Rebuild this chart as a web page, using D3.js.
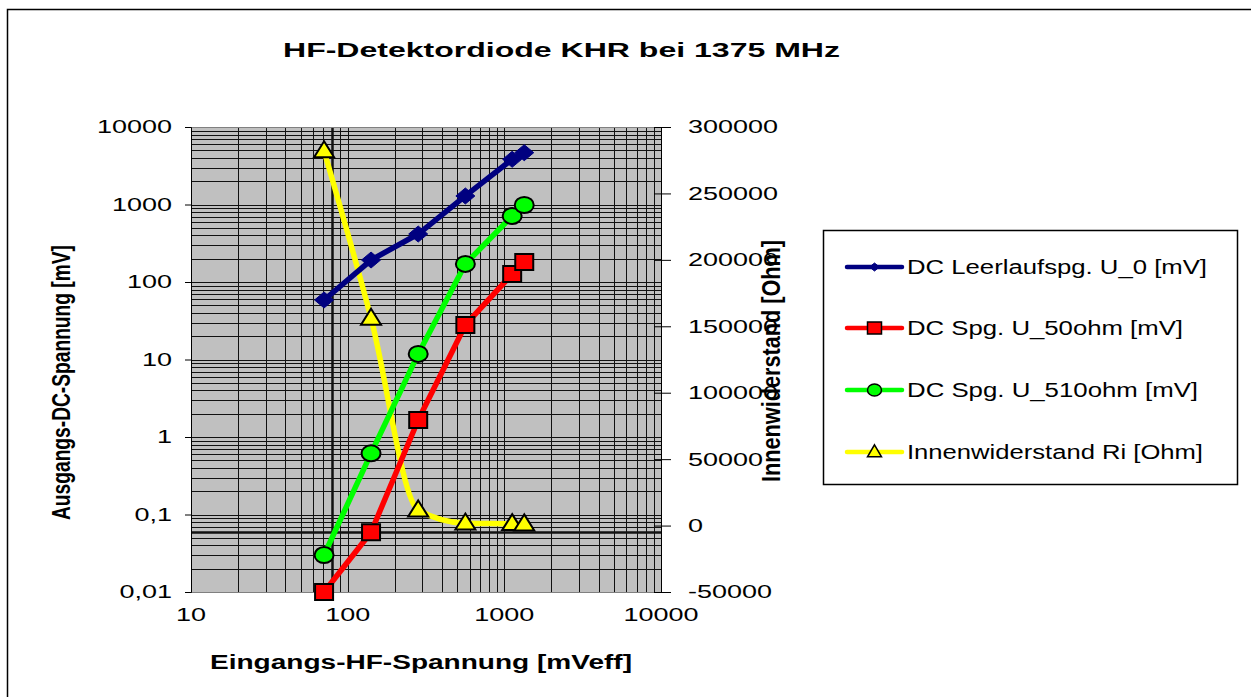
<!DOCTYPE html>
<html><head><meta charset="utf-8">
<script src="https://cdn.jsdelivr.net/npm/d3@7"></script>
<style>
html,body{margin:0;padding:0;background:#fff;}
text{font-family:"Liberation Sans",Arial,sans-serif;}
</style></head>
<body>
<svg id="chart" width="1251" height="697"></svg>
<script>
// ---- data ----
const chartTitle = "HF-Detektordiode KHR bei 1375 MHz";
const xTitle = "Eingangs-HF-Spannung  [mVeff]";
const yTitle = "Ausgangs-DC-Spannung [mV]";
const y2Title = "Innenwiderstand [Ohm]";
const xTicks = [10, 100, 1000, 10000];
const yTicks = [0.01, 0.1, 1, 10, 100, 1000, 10000];
const yTickLabels = ["0,01", "0,1", "1", "10", "100", "1000", "10000"];
const y2Ticks = [-50000, 0, 50000, 100000, 150000, 200000, 250000, 300000];
const inputMv = [70.7, 141, 282, 564, 1122, 1340];
const u0 = [58.6, 192, 416, 1288, 3830, 4660];
const u50 = [0.01, 0.059, 1.66, 27.9, 127, 181];
const u510 = [0.030, 0.616, 11.8, 171, 711, 985];
const ri = [282000, 156000, 11700, 1800, 1400, 1200];
const seriesNames = ["DC Leerlaufspg. U_0 [mV]", "DC Spg. U_50ohm [mV]", "DC Spg. U_510ohm [mV]", "Innenwiderstand Ri [Ohm]"];

// ---- layout ----
const svg = d3.select("#chart");
const L = 191, R = 661, T = 127, B = 592;
const x = d3.scaleLog().domain([10, 10000]).range([L, R]);
const y = d3.scaleLog().domain([0.01, 10000]).range([B, T]);
const y2 = d3.scaleLinear().domain([-50000, 300000]).range([B, T]);

// outer frame
svg.append("path").attr("d", "M7.5,700 V9.5 H1252").attr("fill", "none").attr("stroke", "#000").attr("stroke-width", 1.5);

// plot background
svg.append("rect").attr("x", L).attr("y", T).attr("width", R - L).attr("height", B - T).attr("fill", "#c0c0c0");

// gridlines (log minor)
const gx = [];
[10, 100, 1000].forEach(d => { for (let k = 1; k <= 9; k++) gx.push(d * k); });
gx.push(10000);
const gy = [];
[0.01, 0.1, 1, 10, 100, 1000].forEach(d => { for (let k = 1; k <= 9; k++) gy.push(+(d * k).toPrecision(3)); });
gy.push(10000);
const grid = svg.append("g");
grid.selectAll("line.v").data(gx).join("line").attr("class", "v")
  .attr("x1", d => Math.round(x(d)) + 0.5).attr("x2", d => Math.round(x(d)) + 0.5)
  .attr("y1", T).attr("y2", B)
  .attr("stroke", "#111").attr("stroke-width", d => d === 80 ? 2.5 : 1);
grid.selectAll("line.h").data(gy).join("line").attr("class", "h")
  .attr("y1", d => Math.round(y(d)) + 0.5).attr("y2", d => Math.round(y(d)) + 0.5)
  .attr("x1", L).attr("x2", R)
  .attr("stroke", "#111").attr("stroke-width", d => d === 0.06 ? 2.5 : 1);

// plot border
svg.append("rect").attr("x", L + 0.5).attr("y", T + 0.5).attr("width", R - L).attr("height", B - T)
  .attr("fill", "none").attr("stroke", "#808080").attr("stroke-width", 1);

// left axis
const yAxis = d3.axisLeft(y).tickValues(yTicks).tickSize(6).tickPadding(0).tickFormat((d, i) => "");
const ga = svg.append("g").attr("transform", `translate(${L},0)`).call(yAxis);
ga.select(".domain").attr("stroke", "#000");
ga.selectAll(".tick line").attr("stroke", "#000");
// left labels
svg.append("g").selectAll("text").data(yTicks).join("text")
  .attr("transform", d => `translate(172,${y(d)}) scale(1.5,1)`)
  .attr("dy", "0.36em").attr("text-anchor", "end").attr("font-size", 18).attr("fill", "#000")
  .text((d, i) => yTickLabels[i]);

// right axis
const y2Axis = d3.axisRight(y2).tickValues(y2Ticks).tickSizeInner(0).tickSizeOuter(0).tickFormat(() => "");
const gb = svg.append("g").attr("transform", `translate(${R},0)`).call(y2Axis);
gb.select(".domain").attr("stroke", "#000");
gb.selectAll(".tick line").attr("x1", -7).attr("x2", 10).attr("stroke", "#000");
svg.append("g").selectAll("text").data(y2Ticks).join("text")
  .attr("transform", d => `translate(688,${y2(d)}) scale(1.5,1)`)
  .attr("dy", "0.36em").attr("text-anchor", "start").attr("font-size", 18).attr("fill", "#000")
  .text(d => String(d));

// x labels
svg.append("g").selectAll("text").data(xTicks).join("text")
  .attr("transform", d => `translate(${x(d)},621) scale(1.5,1)`)
  .attr("text-anchor", "middle").attr("font-size", 18).attr("fill", "#000")
  .text(d => String(d));

// titles
svg.append("text").attr("x", 283).attr("y", 57).attr("font-size", 21).attr("font-weight", "bold")
  .attr("textLength", 557).attr("lengthAdjust", "spacingAndGlyphs").text(chartTitle);
svg.append("text").attr("x", 210).attr("y", 669).attr("font-size", 20).attr("font-weight", "bold")
  .attr("textLength", 422).attr("lengthAdjust", "spacingAndGlyphs").text(xTitle);
svg.append("text").attr("transform", "translate(70,520) scale(1.35,1) rotate(-90)")
  .attr("font-size", 19).attr("font-weight", "bold")
  .attr("textLength", 275).attr("lengthAdjust", "spacingAndGlyphs").text(yTitle);
svg.append("text").attr("transform", "translate(780,482) scale(1.35,1) rotate(-90)")
  .attr("font-size", 19).attr("font-weight", "bold")
  .attr("textLength", 242).attr("lengthAdjust", "spacingAndGlyphs").text(y2Title);

// series
const mk = {
  diamond: (w, h) => `M0,${-h/2}L${w/2},0L0,${h/2}L${-w/2},0Z`,
  square: (w, h) => `M${-w/2},${-h/2}H${w/2}V${h/2}H${-w/2}Z`,
  circle: (w, h) => `M${-w/2},0A${w/2},${h/2} 0 1,0 ${w/2},0A${w/2},${h/2} 0 1,0 ${-w/2},0Z`,
  triangle: (w, h) => `M0,${-h*0.6}L${w/2},${h*0.4}L${-w/2},${h*0.4}Z`
};
const series = [
  {vals: u0, sc: y, color: "#000080", marker: "diamond", mw: 19, mh: 16, stroke: "#000080", sw: 1, curve: d3.curveLinear},
  {vals: u50, sc: y, color: "#ff0000", marker: "square", mw: 18, mh: 16, stroke: "#000", sw: 2, curve: d3.curveLinear},
  {vals: u510, sc: y, color: "#00ff00", marker: "circle", mw: 19, mh: 16, stroke: "#000", sw: 2, curve: d3.curveLinear},
  {vals: ri, sc: y2, color: "#ffff00", marker: "triangle", mw: 20, mh: 16, stroke: "#000", sw: 2, curve: d3.curveMonotoneX}
];
const order = [3, 0, 2, 1];
order.forEach(si => {
  const s = series[si];
  const pts = inputMv.map((v, i) => [x(v), s.sc(s.vals[i])]);
  svg.append("path").attr("d", d3.line().curve(s.curve)(pts))
    .attr("fill", "none").attr("stroke", s.color).attr("stroke-width", 5.5)
    .attr("stroke-linejoin", "round").attr("stroke-linecap", "round");
});
order.forEach(si => {
  const s = series[si];
  svg.append("g").selectAll("path").data(inputMv).join("path")
    .attr("transform", (v, i) => `translate(${x(v)},${s.sc(s.vals[i])})`)
    .attr("d", mk[s.marker](s.mw, s.mh))
    .attr("fill", s.color).attr("stroke", s.stroke).attr("stroke-width", s.sw).attr("stroke-linejoin", "miter");
});

// legend
const lg = svg.append("g");
lg.append("rect").attr("x", 823.5).attr("y", 230.5).attr("width", 414).attr("height", 254)
  .attr("fill", "#fff").attr("stroke", "#000").attr("stroke-width", 1.5);
const legY = [267, 328, 390, 452];
const legW = [300, 276, 291, 296];
series.forEach((s, i) => {
  lg.append("line").attr("x1", 847).attr("x2", 902).attr("y1", legY[i]).attr("y2", legY[i])
    .attr("stroke", s.color).attr("stroke-width", 4.5).attr("stroke-linecap", "round");
  lg.append("path").attr("transform", `translate(874.5,${legY[i]})`)
    .attr("d", mk[s.marker](s.marker === "diamond" ? 10 : 14, s.marker === "diamond" ? 8 : 12))
    .attr("fill", s.color).attr("stroke", s.stroke).attr("stroke-width", s.marker === "diamond" ? 1 : 1.5);
  lg.append("text").attr("x", 907).attr("y", legY[i]).attr("dy", "0.36em")
    .attr("font-size", 20).attr("textLength", legW[i]).attr("lengthAdjust", "spacingAndGlyphs")
    .text(seriesNames[i]);
});
</script>
</body></html>
